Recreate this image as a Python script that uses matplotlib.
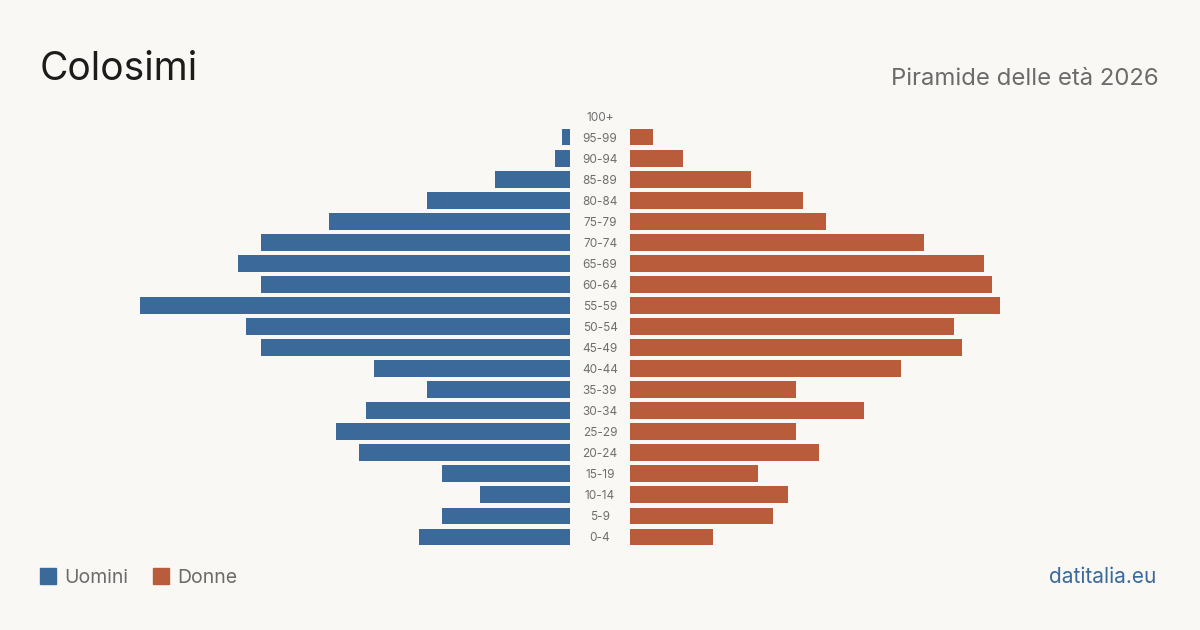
import matplotlib.pyplot as plt
from matplotlib.patches import Rectangle

plt.rcParams['font.family'] = ['Inter', 'DejaVu Sans']

age_groups = ['0-4', '5-9', '10-14', '15-19', '20-24', '25-29', '30-34', '35-39',
              '40-44', '45-49', '50-54', '55-59', '60-64', '65-69', '70-74',
              '75-79', '80-84', '85-89', '90-94', '95-99', '100+']
uomini = [20, 17, 12, 17, 28, 31, 27, 19, 26, 41, 43, 57, 41, 44, 41, 32, 19, 10, 2, 1, 0]
donne = [11, 19, 21, 17, 25, 22, 31, 22, 36, 44, 43, 49, 48, 47, 39, 26, 23, 16, 7, 3, 0]

BG = '#f9f8f4'
BLUE = '#3b6a9a'
ORANGE = '#b95c3c'

fig = plt.figure(figsize=(12, 6.3), dpi=100, facecolor=BG)

W, H = 1200, 630
bottom = 1 - 547.5 / H
height = (547.5 - 105.5) / H
ax_l = fig.add_axes([110 / W, bottom, 460 / W, height])
ax_r = fig.add_axes([630 / W, bottom, 460 / W, height])

y = list(range(len(age_groups)))
ax_l.barh(y, uomini, height=0.8, color=BLUE)
ax_r.barh(y, donne, height=0.8, color=ORANGE)
ax_l.set_xlim(61, 0)
ax_r.set_xlim(0, 61)
for ax in (ax_l, ax_r):
    ax.set_ylim(-0.5, len(age_groups) - 0.5)
    ax.axis('off')

for i, lab in enumerate(age_groups):
    yy = 1 - (549 - (i + 0.5) * (442 / 21)) / H
    fig.text(600 / W, yy, lab, ha='center', va='center', fontsize=8.5, color='#6e6e6e')

fig.text(40 / W, 1 - 80 / H, 'Colosimi', fontsize=28, color='#1c1c1c', ha='left', va='baseline')
fig.text(1159 / W, 1 - 85 / H, 'Piramide delle età 2026', fontsize=17.2, color='#6b6b6b',
         ha='right', va='baseline')

# legend
fig.patches.append(Rectangle((40 / W, 1 - 584 / H), 16 / W, 16 / H, transform=fig.transFigure,
                             color=BLUE))
fig.text(64 / W, 1 - 583 / H, 'Uomini', fontsize=14, color='#6b6b6b', va='baseline')
fig.patches.append(Rectangle((153 / W, 1 - 584 / H), 16 / W, 16 / H, transform=fig.transFigure,
                             color=ORANGE))
fig.text(177 / W, 1 - 583 / H, 'Donne', fontsize=14, color='#6b6b6b', va='baseline')

fig.text(1156 / W, 1 - 583 / H, 'datitalia.eu', fontsize=15, color=BLUE, ha='right', va='baseline')

fig.savefig('out.png', dpi=100, facecolor=BG)
